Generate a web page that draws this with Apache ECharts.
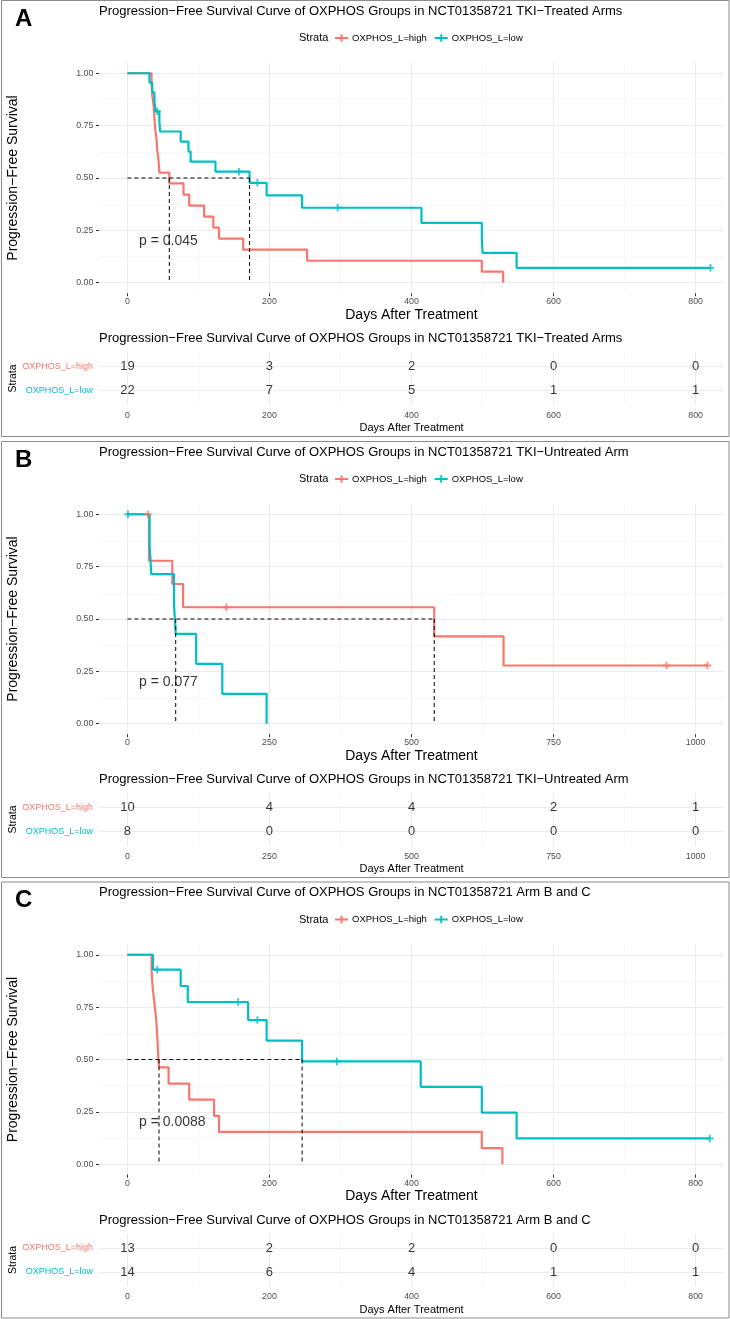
<!DOCTYPE html>
<html>
<head>
<meta charset="utf-8">
<script src="https://cdn.jsdelivr.net/npm/echarts@6.0.0/dist/echarts.min.js"></script>
<style>
html,body{margin:0;padding:0;background:#fff;}
#chart{width:730px;height:1319px;}
</style>
</head>
<body>
<div id="chart"></div>
<script>
// ---- data ----
var strata = ['OXPHOS_L=high', 'OXPHOS_L=low'];
var colors = ['#F8766D', '#00BFC4'];
var letters = ['A', 'B', 'C'];
var titles = [
  'Progression\u2212Free Survival Curve of OXPHOS Groups in NCT01358721 TKI\u2212Treated Arms',
  'Progression\u2212Free Survival Curve of OXPHOS Groups in NCT01358721 TKI\u2212Untreated Arm',
  'Progression\u2212Free Survival Curve of OXPHOS Groups in NCT01358721 Arm B and C'
];
var pValues = ['p = 0.045', 'p = 0.077', 'p = 0.0088'];

// panel A: TKI-treated arms
var xTicksA = [0, 200, 400, 600, 800];
var highTimeA = [0, 34, 35, 37, 38, 39, 41, 42, 44, 45, 59, 79, 87, 108, 121, 129, 163, 253, 499, 529];
var highSurvA = [1, 0.947, 0.895, 0.842, 0.789, 0.737, 0.684, 0.632, 0.579, 0.526, 0.474, 0.421, 0.368, 0.316, 0.263, 0.211, 0.158, 0.105, 0.053, 0];
var highCensorA = [];
var lowTimeA = [0, 31, 35, 38, 40, 45, 46, 75, 86, 89, 124, 172, 196, 246, 414, 499, 500, 548];
var lowSurvA = [1, 0.955, 0.909, 0.864, 0.818, 0.770, 0.722, 0.674, 0.626, 0.578, 0.530, 0.477, 0.417, 0.358, 0.286, 0.215, 0.143, 0.071];
var lowCensorA = [42, 157, 183, 296, 821];
var mediansA = [59, 172];
var riskHighA = [19, 3, 2, 0, 0];
var riskLowA = [22, 7, 5, 1, 1];

// panel B: TKI-untreated arm
var xTicksB = [0, 250, 500, 750, 1000];
var highTimeB = [0, 38, 79, 98, 540, 662];
var highSurvB = [1, 0.778, 0.667, 0.556, 0.417, 0.278];
var highCensorB = [36, 174, 949, 1021];
var lowTimeB = [0, 39, 42, 82, 85, 121, 167, 245];
var lowSurvB = [1, 0.857, 0.714, 0.571, 0.429, 0.286, 0.143, 0];
var lowCensorB = [1];
var mediansB = [540, 85];
var riskHighB = [10, 4, 4, 2, 1];
var riskLowB = [8, 0, 0, 0, 0];

// panel C: arm B and C
var xTicksC = [0, 200, 400, 600, 800];
var highTimeC = [0, 34, 35.5, 38, 40.5, 42, 43, 44.5, 58, 87, 122, 129, 499, 528];
var highSurvC = [1, 0.923, 0.846, 0.769, 0.692, 0.615, 0.538, 0.462, 0.385, 0.308, 0.231, 0.154, 0.077, 0];
var highCensorC = [];
var lowTimeC = [0, 36, 75, 85, 170, 196, 246, 413, 499, 548];
var lowSurvC = [1, 0.929, 0.851, 0.774, 0.688, 0.590, 0.491, 0.369, 0.246, 0.123];
var lowCensorC = [42, 156, 183, 295, 820];
var mediansC = [44.5, 246];
var riskHighC = [13, 2, 2, 0, 0];
var riskLowC = [14, 6, 4, 1, 1];

var panels = [
  {ticks: xTicksA, high: [highTimeA, highSurvA, highCensorA], low: [lowTimeA, lowSurvA, lowCensorA], medians: mediansA, risk: [riskHighA, riskLowA]},
  {ticks: xTicksB, high: [highTimeB, highSurvB, highCensorB], low: [lowTimeB, lowSurvB, lowCensorB], medians: mediansB, risk: [riskHighB, riskLowB]},
  {ticks: xTicksC, high: [highTimeC, highSurvC, highCensorC], low: [lowTimeC, lowSurvC, lowCensorC], medians: mediansC, risk: [riskHighC, riskLowC]}
];

// ---- layout / style ----
var FONT = '"Liberation Sans", Arial, Helvetica, sans-serif';
var GRAY = '#4d4d4d';
var offsets = [0, 441, 881.5];
var plusPath = 'path://M3,0H5V3H8V5H5V8H3V5H0V3H3Z';
var legendIcon = 'path://M0,3H14V5H0Z M6,0H8V8H6Z';

function survAt(g, t) {
  var s = 1;
  for (var j = 0; j < g[0].length; j++) if (g[0][j] <= t) s = g[1][j];
  return s;
}
function kmPoints(g) {
  var pts = g[0].map(function (t, j) { return [t, g[1][j]]; });
  var lastC = g[2].length ? Math.max.apply(null, g[2]) : -1;
  if (lastC > g[0][g[0].length - 1]) pts.push([lastC, g[1][g[1].length - 1]]);
  return pts;
}
function axis(o) {
  return {
    type: 'value', gridIndex: o.grid, min: o.min, max: o.max, position: o.position,
    silent: true,
    axisLine: {show: false, onZero: false},
    axisTick: {show: !!o.tickLen, length: o.tickLen || 0, customValues: o.ticks, lineStyle: {color: '#333', width: 1}},
    axisLabel: {show: !o.noLabel, customValues: o.ticks, margin: o.margin || 4, fontSize: 8.8, color: GRAY,
      fontFamily: FONT, formatter: o.formatter || function (v) { return String(v); }, rich: o.rich},
    splitLine: {show: true, lineStyle: {color: o.minor ? '#f4f4f4' : '#ebebeb', width: o.minor ? 0.7 : 1}},
    name: o.name || '', nameLocation: 'middle', nameGap: o.nameGap || 0, nameMoveOverlap: false,
    nameTextStyle: {fontSize: o.nameSize || 12, color: '#000', fontFamily: FONT}
  };
}
function text(x, y, str, size, weight) {
  return {type: 'text', x: x, y: y, silent: true,
    style: {text: str, fontSize: size, fontWeight: weight || 'normal', fontFamily: FONT, fill: '#000',
      align: 'left', verticalAlign: 'middle', textAlign: 'left', textVerticalAlign: 'middle'}};
}

var grids = [], xAxes = [], yAxes = [], series = [], legends = [], graphics = [];

panels.forEach(function (pn, i) {
  var o = offsets[i];
  var xMaxTick = pn.ticks[pn.ticks.length - 1];
  var xmin = -0.05 * xMaxTick, xmax = 1.05 * xMaxTick;
  var minorX = pn.ticks.slice(1).map(function (v, j) { return (v + pn.ticks[j]) / 2; });
  var yTicks = [0, 0.25, 0.5, 0.75, 1];
  var minorY = [0.125, 0.375, 0.625, 0.875];

  var gMain = grids.length;
  grids.push({left: 99, top: o + 62.8, width: 625, height: 230.4, containLabel: false, outerBoundsMode: 'none'});
  var gRisk = grids.length;
  grids.push({left: 99, top: o + 352.1, width: 625, height: 52.8, containLabel: false, outerBoundsMode: 'none'});

  var xm = xAxes.length;
  xAxes.push(axis({grid: gMain, min: xmin, max: xmax, position: 'bottom', ticks: pn.ticks, tickLen: 3, margin: 4,
    name: 'Days After Treatment', nameSize: 14, nameGap: 14.8}));
  xAxes.push(axis({grid: gMain, min: xmin, max: xmax, position: 'top', ticks: minorX, noLabel: true, minor: true}));
  var xr = xAxes.length;
  xAxes.push(axis({grid: gRisk, min: xmin, max: xmax, position: 'bottom', ticks: pn.ticks, margin: 6,
    name: 'Days After Treatment', nameSize: 11, nameGap: 17.6}));
  xAxes.push(axis({grid: gRisk, min: xmin, max: xmax, position: 'top', ticks: minorX, noLabel: true, minor: true}));

  var ym = yAxes.length;
  yAxes.push(axis({grid: gMain, min: -0.05, max: 1.05, position: 'left', ticks: yTicks, tickLen: 3, margin: 5.7,
    formatter: function (v) { return Number(v).toFixed(2); },
    name: 'Progression\u2212Free Survival', nameSize: 14, nameGap: 79}));
  yAxes.push(axis({grid: gMain, min: -0.05, max: 1.05, position: 'right', ticks: minorY, noLabel: true, minor: true}));
  var yr = yAxes.length;
  yAxes.push(axis({grid: gRisk, min: -0.6, max: 1.6, position: 'left', ticks: [0, 1], margin: 6,
    formatter: function (v) { return Number(v) === 1 ? '{h|' + strata[0] + '}' : '{l|' + strata[1] + '}'; },
    rich: {h: {color: colors[0], fontSize: 9, fontFamily: FONT}, l: {color: colors[1], fontSize: 9, fontFamily: FONT}},
    name: 'Strata', nameSize: 10.5, nameGap: 80.7}));

  // survival curves and censor marks
  [pn.high, pn.low].forEach(function (g, k) {
    series.push({type: 'line', name: strata[k], xAxisIndex: xm, yAxisIndex: ym, data: kmPoints(g),
      step: 'end', symbol: 'none', showSymbol: false, silent: true, z: 3,
      lineStyle: {width: 2.2, color: colors[k]}, itemStyle: {color: colors[k]}});
    if (g[2].length) {
      series.push({type: 'scatter', name: strata[k] + ' censored', xAxisIndex: xm, yAxisIndex: ym,
        data: g[2].map(function (t) { return [t, survAt(g, t)]; }),
        symbol: plusPath, symbolSize: 7.5, silent: true, z: 4, itemStyle: {color: colors[k]}});
    }
  });

  // median survival lines
  var medMax = Math.max.apply(null, pn.medians);
  var segs = [[[0, 0.5], [medMax, 0.5]]].concat(pn.medians.map(function (m) { return [[m, 0.5], [m, 0]]; }));
  segs.forEach(function (sg) {
    series.push({type: 'line', xAxisIndex: xm, yAxisIndex: ym, data: sg, symbol: 'none', silent: true, z: 5,
      lineStyle: {color: '#000', width: 1, type: [4, 3]}, itemStyle: {color: '#000'}});
  });

  // p-value
  var maxTime = 0;
  [pn.high, pn.low].forEach(function (g) {
    maxTime = Math.max(maxTime, g[0][g[0].length - 1], g[2].length ? Math.max.apply(null, g[2]) : 0);
  });
  series.push({type: 'scatter', xAxisIndex: xm, yAxisIndex: ym, data: [[maxTime / 50, 0.2]], symbolSize: 0,
    silent: true, z: 6,
    label: {show: true, position: 'right', distance: 0, formatter: pValues[i], fontSize: 14, color: '#000', fontFamily: FONT}});

  // numbers at risk
  pn.risk.forEach(function (row, k) {
    series.push({type: 'scatter', xAxisIndex: xr, yAxisIndex: yr, symbolSize: 0, silent: true,
      data: row.map(function (n, j) { return [pn.ticks[j], k === 0 ? 1 : 0, n]; }),
      label: {show: true, position: 'inside', formatter: function (p) { return p.value[2]; },
        fontSize: 13, color: '#000', fontFamily: FONT}});
  });

  legends.push({top: o + 33, left: 335, padding: 0, itemWidth: 13, itemHeight: 8, itemGap: 8,
    selectedMode: false, data: strata.map(function (s) { return {name: s, icon: legendIcon}; }),
    textStyle: {fontSize: 9.5, color: '#000', fontFamily: FONT, padding: [0, 0, 0, -1]}});

  graphics.push({type: 'rect', silent: true, shape: {x: 1.5, y: o + 0.5, width: 727.5, height: 436},
    style: {fill: 'none', stroke: '#8c8c8c', lineWidth: 1}});
  graphics.push(text(15, o + 19, letters[i], 24, 'bold'));
  graphics.push(text(99, o + 11.3, titles[i], 13));
  graphics.push(text(299, o + 38, 'Strata', 11));
  graphics.push(text(99, o + 338.5, titles[i], 13));
});

var chart = echarts.init(document.getElementById('chart'));
chart.setOption({
  animation: false,
  backgroundColor: '#fff',
  grid: grids,
  xAxis: xAxes,
  yAxis: yAxes,
  legend: legends,
  series: series,
  graphic: graphics
});
</script>
</body>
</html>
